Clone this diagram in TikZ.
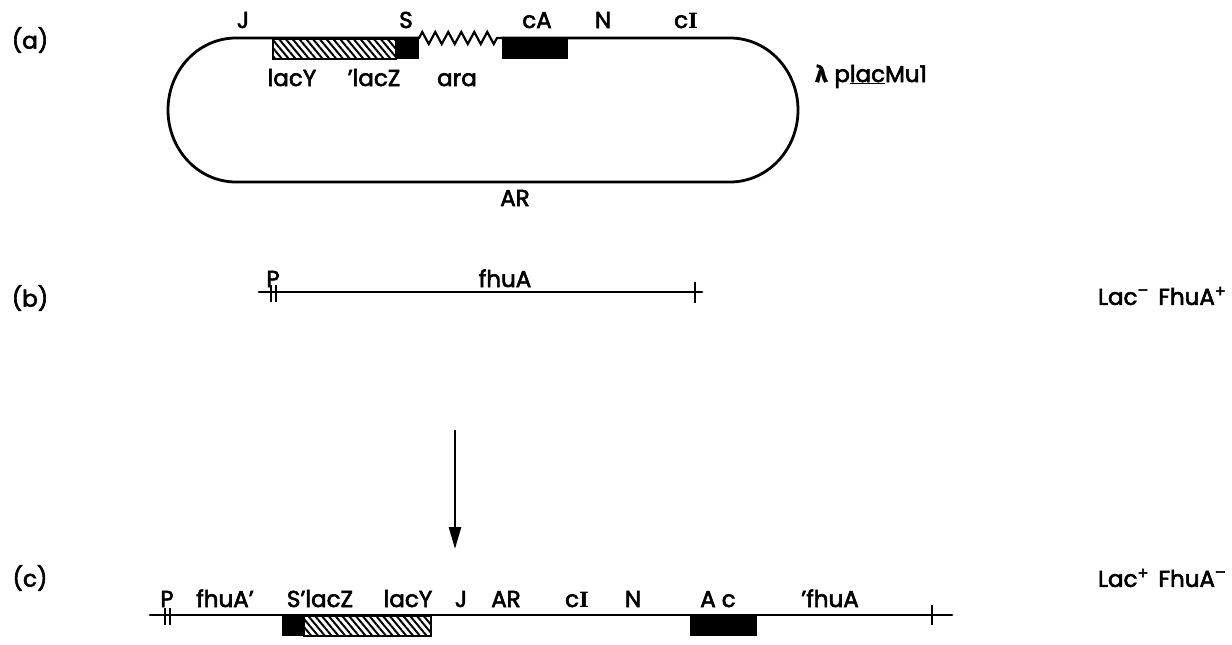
\documentclass[tikz,border=0pt]{standalone}
\usepackage{fontspec}
\usetikzlibrary{arrows.meta,patterns.meta,decorations.pathmorphing}
\newfontfamily\gene{Poppins}[FakeBold=2.6]
\newfontfamily\greekfont{Fira Sans}[FakeBold=1.5]
\newfontfamily\romanI{DejaVu Serif}
\newcommand\upminus{\raisebox{9pt}{\fontsize{16}{16}\selectfont –}}
\newcommand\upplus{\raisebox{8pt}{\fontsize{16}{16}\selectfont +}}
\newcommand\cI{c{\romanI\bfseries\fontsize{21}{24}\selectfont I}}
\tikzset{
  lbl/.style={inner sep=0pt, font=\gene\fontsize{23}{27}\selectfont},
  dna/.style={line width=2.8pt, line cap=round},
  tick/.style={line width=2.4pt},
  solidbox/.style={fill=black, draw=black, line width=1.2pt},
  hatchbox/.style={draw=black, line width=1.8pt,
    pattern={Lines[angle=-50,distance=5.2pt,line width=2pt]}},
}
\begin{document}
\begin{tikzpicture}[x=1pt,y=-1pt]
\useasboundingbox (0,0) rectangle (1232,645);

% ---------- (a) the phage lambda plac Mu1 ----------
\node[lbl] (la) at (30,40) {(a)};
% circular genome drawn as a stadium, open where the ara segment sits
\coordinate (ztop) at (419,38);
\coordinate (zend) at (502,38);
\draw[dna] (zend) -- (730,38)
  arc[start angle=90, end angle=-90, x radius=68pt, y radius=72pt]
  -- (236,182)
  arc[start angle=-90, end angle=-270, x radius=68pt, y radius=72pt]
  -- (ztop);
\draw[line width=2.2pt, line join=miter,
  decorate, decoration={zigzag, segment length=13pt, amplitude=6pt}]
  (ztop) -- (zend);
\node[hatchbox, minimum width=123pt, minimum height=20pt, anchor=north west] (ahatch) at (272,38) {};
\node[solidbox, minimum width=22pt, minimum height=20pt, anchor=north west] (aS) at (396,38) {};
\node[solidbox, minimum width=65pt, minimum height=20pt, anchor=north west] (aA) at (502,38) {};

\node[lbl, anchor=base] (aJ)  at (243,28) {J};
\node[lbl, anchor=base] (aSl) at (406,28) {S};
\node[lbl, anchor=base] (acA) at (537,28) {cA};
\node[lbl, anchor=base] (aN)  at (603,28) {N};
\node[lbl, anchor=base] (acI) at (686,28) {\cI};
\node[lbl, anchor=base] (alacY) at (292,86) {lacY};
\node[lbl, anchor=base] (alacZ) at (374,86) {’lacZ};
\node[lbl, anchor=base] (aara)  at (457,86) {ara};
\node[lbl, anchor=base] (aAR)   at (515,206) {AR};
\node[lbl, anchor=base west] (aname) at (815,82)
  {{\greekfont\bfseries λ}\hspace{7pt}p\underline{lac}Mu1};

% ---------- (b) the fhuA gene ----------
\node[lbl] (lb) at (30,298) {(b)};
\coordinate (bstart) at (259,292);
\coordinate (bend) at (702,292);
\draw[dna] (bstart) -- (bend);
\draw[tick] (271,285) -- (271,302);
\draw[tick] (276,285) -- (276,302);
\draw[tick] (695,282) -- (695,303);
\node[lbl, anchor=base] (bP)    at (273,287) {P};
\node[lbl, anchor=base] (bfhuA) at (505,287) {fhuA};
\node[lbl, anchor=east] (bpheno) at (1226,296)
  {Lac\upminus\hspace{10pt}FhuA\upplus};

% ---------- transposition ----------
\coordinate (arrtop) at (455,430);
\coordinate (arrtip) at (455,549);
\draw[line width=2.6pt, -{Triangle[length=22pt,width=12pt]}] (arrtop) -- (arrtip);

% ---------- (c) fhuA::placMu1 fusion ----------
\node[lbl] (lc) at (30,578) {(c)};
\coordinate (cstart) at (150,615);
\coordinate (cend) at (952,615);
\node[solidbox, minimum width=21pt, minimum height=20pt, anchor=north west] (cS) at (282,615) {};
\node[hatchbox, minimum width=127pt, minimum height=20pt, anchor=north west] (chatch) at (303,615) {};
\node[solidbox, minimum width=66pt, minimum height=20pt, anchor=north west] (cA) at (690,615) {};
\draw[dna] (cstart) -- (cend);
\draw[tick] (165,608) -- (165,625);
\draw[tick] (170,608) -- (170,625);
\draw[tick] (932,605) -- (932,625);

\node[lbl, anchor=base] (cP)     at (167,607) {P};
\node[lbl, anchor=base] (cfhuA)  at (225,607) {fhuA’};
\node[lbl, anchor=base] (clacZ)  at (320,607) {S’lacZ};
\node[lbl, anchor=base] (clacY)  at (408,607) {lacY};
\node[lbl, anchor=base] (cJ)     at (461,607) {J};
\node[lbl, anchor=base] (cAR)    at (506,607) {AR};
\node[lbl, anchor=base] (ccI)    at (577,607) {\cI};
\node[lbl, anchor=base] (cN)     at (633,607) {N};
\node[lbl, anchor=base] (cAc)    at (718,607) {A\hspace{6pt}c};
\node[lbl, anchor=base] (cfhuA2) at (830,607) {’fhuA};
\node[lbl, anchor=east] (cpheno) at (1226,578)
  {Lac\upplus\hspace{10pt}FhuA\upminus};
\end{tikzpicture}
\end{document}
